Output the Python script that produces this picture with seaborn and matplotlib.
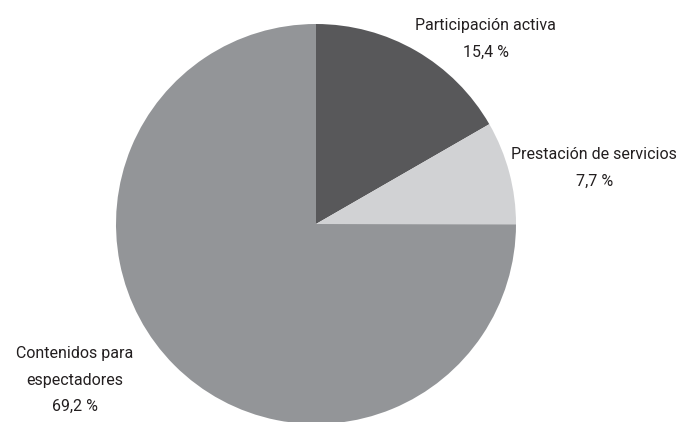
import matplotlib
matplotlib.use("Agg")
import matplotlib.pyplot as plt
import seaborn as sns

categories = ["Participación activa", "Prestación de servicios", "Contenidos para\nespectadores"]
values = [15.4, 7.7, 69.2]
value_labels = ["15,4 %", "7,7 %", "69,2 %"]
colors = ["#58585a", "#d1d2d4", "#939598"]

sns.set_theme(style="white")
plt.rcParams["font.family"] = ["Roboto", "DejaVu Sans"]

fig = plt.figure(figsize=(6.81, 4.22), dpi=100)
# pie centre at (316, 224) px, radius 200 px
ax = fig.add_axes([116 / 681, (422 - 424) / 422, 400 / 681, 400 / 422])
ax.pie(values, colors=colors, startangle=90, counterclock=False,
       wedgeprops=dict(linewidth=0))
ax.set_xlim(-1, 1)
ax.set_ylim(-1, 1)
ax.set_aspect("equal")
ax.axis("off")

# label positions in pie units (hand placed, as in the reference)
label_pos = [(0.848, 0.925), (1.392, 0.28), (-1.205, -0.78)]
for cat, val, (x, y) in zip(categories, value_labels, label_pos):
    ax.text(x, y, f"{cat}\n{val}", ha="center", va="center", fontsize=11.5,
            color="#231f20", linespacing=1.95, clip_on=False)

fig.savefig("out.png", dpi=100)
